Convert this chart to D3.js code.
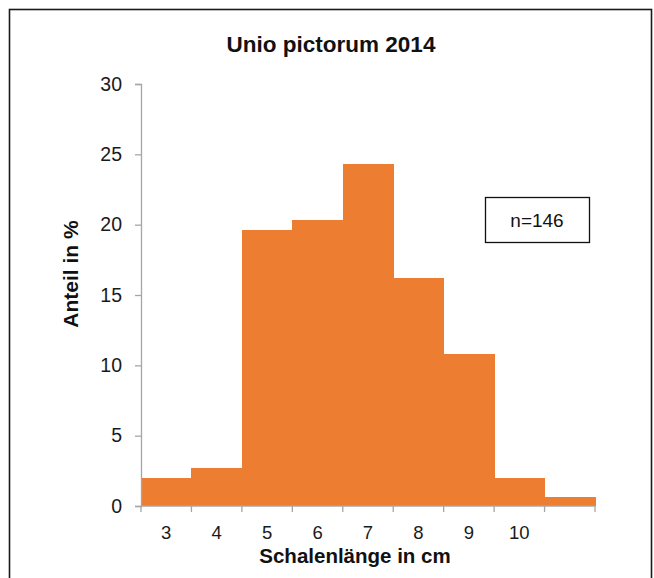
<!DOCTYPE html>
<html>
<head>
<meta charset="utf-8">
<script src="https://cdn.jsdelivr.net/npm/d3@7"></script>
<style>
  html, body { margin: 0; padding: 0; background: #fff; }
  svg { display: block; font-family: "Liberation Sans", Arial, sans-serif; }
</style>
</head>
<body>
<svg id="chart" width="654" height="578"></svg>
<script>
const categories = ["3", "4", "5", "6", "7", "8", "9", "10", ""];
const values = [2.0, 2.7, 19.6, 20.3, 24.3, 16.2, 10.8, 2.0, 0.65];
const yTicks = [0, 5, 10, 15, 20, 25, 30];
const title = "Unio pictorum 2014";
const xTitle = "Schalenlänge in cm";
const yTitle = "Anteil in %";
const note = "n=146";

(function () {
const svg = d3.select("#chart");

// outer frame
svg.append("rect")
  .attr("x", 9.5).attr("y", 9.5)
  .attr("width", 642).attr("height", 580)
  .attr("fill", "none").attr("stroke", "#1a1a1a").attr("stroke-width", 1.6);

const pLeft = 141, pRight = 595, pTop = 84, pBottom = 506;

const x = d3.scaleBand().domain(d3.range(categories.length)).range([pLeft, pRight]).padding(0);
const y = d3.scaleLinear().domain([0, 30]).range([pBottom, pTop]);

// bars
svg.append("g").attr("shape-rendering", "crispEdges")
  .selectAll("rect").data(values).join("rect")
  .attr("x", (d, i) => x(i))
  .attr("y", d => y(d))
  .attr("width", x.bandwidth() + 0.6)
  .attr("height", d => y(0) - y(d))
  .attr("fill", "#ED7D31");

// y axis
const yAxis = svg.append("g").attr("transform", `translate(${pLeft},0)`)
  .call(d3.axisLeft(y).tickValues(yTicks).tickSize(6).tickPadding(13).tickFormat(d3.format("d")));
yAxis.select(".domain").attr("stroke", "#a6a6a6").attr("stroke-width", 1.3);
yAxis.selectAll(".tick line").attr("stroke", "#a6a6a6").attr("stroke-width", 1.3);
yAxis.selectAll(".tick text").attr("font-size", 19.5).attr("fill", "#1a1a1a")
  .attr("font-family", "Liberation Sans, Arial, sans-serif");

// x axis: ticks at category boundaries
const boundaries = d3.range(categories.length + 1).map(i => pLeft + i * x.bandwidth());
const xg = svg.append("g");
xg.append("line")
  .attr("x1", pLeft).attr("x2", pRight).attr("y1", pBottom).attr("y2", pBottom)
  .attr("stroke", "#a6a6a6").attr("stroke-width", 1.3);
xg.selectAll("line.tk").data(boundaries).join("line").attr("class", "tk")
  .attr("x1", d => d).attr("x2", d => d)
  .attr("y1", pBottom).attr("y2", pBottom + 6)
  .attr("stroke", "#a6a6a6").attr("stroke-width", 1.3);
xg.selectAll("text").data(categories).join("text")
  .attr("x", (d, i) => x(i) + x.bandwidth() / 2)
  .attr("y", 539)
  .attr("text-anchor", "middle")
  .attr("font-size", 18.5).attr("fill", "#1a1a1a")
  .text(d => d);

// titles
svg.append("text").attr("x", 331).attr("y", 51.5).attr("text-anchor", "middle")
  .attr("font-size", 22.5).attr("font-weight", "bold").attr("fill", "#111").text(title);
svg.append("text").attr("x", 355).attr("y", 562.5).attr("text-anchor", "middle")
  .attr("font-size", 20.5).attr("font-weight", "bold").attr("fill", "#111").text(xTitle);
svg.append("text").attr("transform", "translate(78,274) rotate(-90)").attr("text-anchor", "middle")
  .attr("font-size", 21).attr("font-weight", "bold").attr("fill", "#111").text(yTitle);

// n box
svg.append("rect").attr("x", 485.5).attr("y", 197.5).attr("width", 104).attr("height", 45)
  .attr("fill", "#fff").attr("stroke", "#111").attr("stroke-width", 1.3);
svg.append("text").attr("x", 537).attr("y", 227).attr("text-anchor", "middle")
  .attr("font-size", 19).attr("fill", "#111").text(note);
})();
</script>
</body>
</html>
